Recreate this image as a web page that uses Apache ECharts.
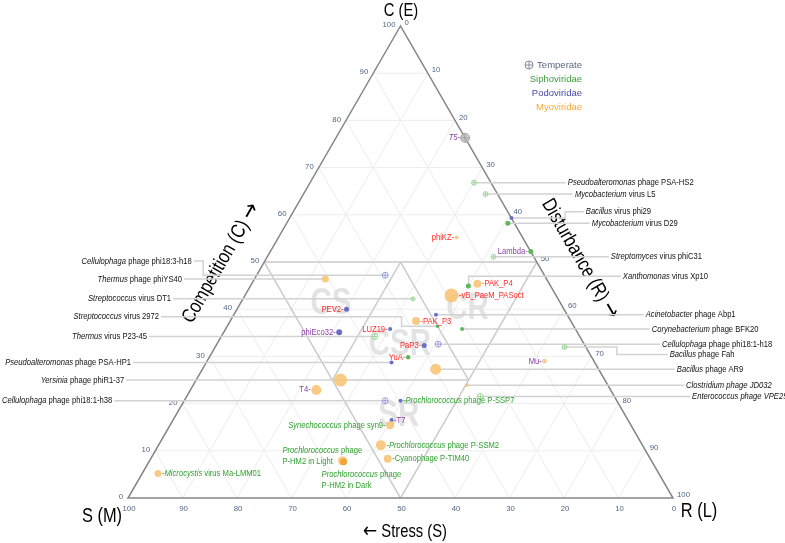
<!DOCTYPE html>
<html>
<head>
<meta charset="utf-8">
<style>html,body{margin:0;padding:0;background:#fff;}#main{width:785px;height:543px;}</style>
<script src="https://cdn.jsdelivr.net/npm/echarts@6.0.0/dist/echarts.min.js"></script>
</head>
<body>
<div id="main"></div>
<script>
// ---------------- DATA ----------------
const phageNames = [
 'T5','Pseudoalteromonas phage PSA-HS2','Mycobacterium virus L5','Bacillus virus phi29','Mycobacterium virus D29',
 'phiKZ','Lambda','Streptomyces virus phiC31','Xanthomonas virus Xp10','PAK_P4',
 'vB_PaeM_PASoct','Streptococcus virus DT1','Acinetobacter phage Abp1','PAK_P3','Streptococcus virus 2972',
 'Corynebacterium phage BFK20','PEV2','phiEco32','LUZ19','Thermus virus P23-45',
 'PaP3','Cellulophaga phage phi18:1-h18','Bacillus phage Fah','YuA','Pseudoalteromonas phage PSA-HP1',
 'Mu','Bacillus phage AR9','Yersinia phage phiR1-37','Clostridium phage JD032','T4',
 'Enterococcus phage VPE25','Cellulophaga phage phi18:1-h38','Prochlorococcus phage P-SSP7','T7','Synechococcus phage syn9',
 'Prochlorococcus phage P-SSM2','Cyanophage P-TIM40','Prochlorococcus phage P-HM2 in Light','Prochlorococcus phage P-HM2 in Dark','Microcystis virus Ma-LMM01',
 'Cellulophaga phage phi18:3-h18','Thermus phage phiYS40'
];
const competitionC = [76.3,66.8,64.4,59.3,58.2, 55.2,52.2,51.1,44.9,45.4, 42.9,42.2,38.8,37.5,36.4, 35.8,40.0,35.1,35.8,34.2,
 32.3,32.6,32.0,29.8,28.7, 29.0,27.3,25.0,23.9,22.9, 21.5,20.6,20.6,16.5,15.4, 11.2,8.3,7.9,7.7,5.2, 47.2,46.4];
const stressS = [0,3.1,2.2,0,1.2, 12.1,0,7.4,15.1,13.2, 19.2,26.6,24.1,28.4,25.0, 20.8,39.9,43.7,34.0,37.6,
 29.5,26.8,3.9,33.7,37.3, 9.1,29.9,48.5,25.9,54.0, 24.6,42.5,39.7,43.4,44.2, 48.0,48.2,56.7,56.6,91.9, 29.2,40.6];
const disturbanceR = [23.7,30.1,33.4,40.7,40.6, 32.7,47.8,41.5,40.0,41.4, 37.9,31.2,37.1,34.1,38.6, 43.4,20.1,21.2,30.2,28.2,
 38.2,40.6,64.1,36.5,34.0, 61.9,42.8,26.5,50.2,23.1, 53.9,36.9,39.7,40.1,40.4, 40.8,43.5,35.4,35.7,2.9, 23.6,13.0];
// family: T = temperate (grey), S = Siphoviridae, P = Podoviridae, M = Myoviridae, Md = Myoviridae (dark condition)
const family = ['T','S','S','P','S', 'M','S','S','S','M', 'M','S','P','M','S', 'S','P','P','P','S',
 'P','P','S','S','P', 'M','M','M','M','M', 'S','P','P','P','M', 'M','M','M','Md','M', 'P','M'];
const temperate = [1,1,1,0,0, 0,0,1,0,0, 0,1,0,0,0, 0,0,0,0,1, 0,1,1,0,0, 1,0,0,1,0, 1,1,0,0,0, 0,0,0,0,0, 1,0];
const bubbleWeight = [9,5,5,4,5, 4,5,5,5,8, 14,4,4,8,3.5, 4,5,6,4,6, 5,6,5,4.5,4, 4,11,13,3,10, 6,6,4,4,8, 10,8,9,7,7, 6,7];

const tickValues = [0,10,20,30,40,50,60,70,80,90,100];
const gridValues = [10,20,30,40,50,60,70,80,90];

const zoneNames = ['CS','CR','CSR','SR'];
const zoneC = [41.1,40.0,32.4,17.4];
const zoneS = [42.2,17.7,33.9,41.6];
const zoneR = [16.7,42.3,33.7,41.0];

// CSR model boundaries: [c1,s1,r1,c2,s2,r2]
const zoneBoundaries = [
 [50,50,0,50,0,50],[50,50,0,0,50,50],[50,0,50,0,50,50],
 [50,25,25,25,50,25],[50,25,25,25,25,50],[25,50,25,25,25,50]
];

// ---------------- LAYOUT (annotations) ----------------
const SANS = '"Liberation Sans",Arial,sans-serif';
const NX = 0.82;            // horizontal condensing of annotation text
const LBL = 9.3;
const labelColors = {red:'#ff2a2a', purple:'#8b3fa8', green:'#2f9f2f'};
// name, rich text, side, colour, dx, dy
const inlineLabels = [
 ['T5','{i|T5}-','L','purple'],
 ['phiKZ','phiKZ-','L','red'],
 ['Lambda','Lambda-','L','purple'],
 ['PAK_P4','-PAK_P4','R','red'],
 ['vB_PaeM_PASoct','-vB_PaeM_PASoct','R','red'],
 ['PAK_P3','-PAK_P3','R','red'],
 ['PEV2','PEV2-','L','red'],
 ['phiEco32','phiEco32-','L','purple'],
 ['LUZ19','LUZ19-','L','red'],
 ['PaP3','PaP3-','L','red'],
 ['YuA','YuA-','L','red'],
 ['Mu','Mu-','L','purple'],
 ['T4','T4-','L','purple'],
 ['T7','-T7','R','purple'],
 ['Prochlorococcus phage P-SSP7','-{i|Prochlorococcus} phage P-SSP7','R','green'],
 ['Synechococcus phage syn9','{i|Synechococcus} phage syn9-','L','green'],
 ['Prochlorococcus phage P-SSM2','-{i|Prochlorococcus} phage P-SSM2','R','green'],
 ['Cyanophage P-TIM40','-Cyanophage P-TIM40','R','green'],
 ['Prochlorococcus phage P-HM2 in Light','{i|Prochlorococcus} phage\nP-HM2 in Light','B','green',-60,-5],
 ['Prochlorococcus phage P-HM2 in Dark','{i|Prochlorococcus} phage\nP-HM2 in Dark','B','green',-22,18],
 ['Microcystis virus Ma-LMM01','-{i|Microcystis} virus Ma-LMM01','R','green']
];
// name, side, text x (cartesian units), label C level (null = same), elbow x (cartesian units)
const leaderLabels = [
 ['Cellulophaga phage phi18:3-h18','L',11.7,50.2,13.8],
 ['Thermus phage phiYS40','L',9.9,null,null],
 ['Streptococcus virus DT1','L',7.9,null,null],
 ['Streptococcus virus 2972','L',5.7,38.4,50.2],
 ['Thermus virus P23-45','L',3.5,null,null],
 ['Pseudoalteromonas phage PSA-HP1','L',0.55,null,null],
 ['Yersinia phage phiR1-37','L',-0.7,null,null],
 ['Cellulophaga phage phi18:1-h38','L',-2.9,null,null],
 ['Pseudoalteromonas phage PSA-HS2','R',80.7,null,null],
 ['Mycobacterium virus L5','R',82.0,null,null],
 ['Bacillus virus phi29','R',84.0,60.65,80.2],
 ['Mycobacterium virus D29','R',85.1,null,null],
 ['Streptomyces virus phiC31','R',88.6,null,null],
 ['Xanthomonas virus Xp10','R',90.8,47.0,62.5],
 ['Acinetobacter phage Abp1','R',95.0,null,null],
 ['Corynebacterium phage BFK20','R',96.1,null,null],
 ['Cellulophaga phage phi18:1-h18','R',98.0,null,null],
 ['Bacillus phage Fah','R',99.4,30.4,89.7],
 ['Bacillus phage AR9','R',100.7,null,null],
 ['Clostridium phage JD032','R',102.4,null,null],
 ['Enterococcus phage VPE25','R',103.5,null,null]
];
const fullItalic = ['Clostridium phage JD032','Enterococcus phage VPE25'];

// ---------------- HELPERS ----------------
const SQ3 = Math.sqrt(3)/2;
function tern(c,s,r){ const t=c+s+r; c=c*100/t; r=r*100/t; return [r + c/2, c*SQ3]; }
const idxOf = n => phageNames.indexOf(n);
function italicRich(color, size){
  return { i:{fontStyle:'italic', fontSize:size, fontFamily:SANS, fill:color} };
}
const arrowRich = (size)=>({ a:{fontSize:size*1.15, fontFamily:'"DejaVu Sans",sans-serif', fill:'#000'} });
const famColor = {T:'#b9b9b9', S:'#5cb85c', P:'#6a6fc4', M:'#f9c57a', Md:'#f2a436'};
const famBorder = {T:'#9a9a9a', S:'#8fcf8f', P:'#8a8fd6', M:'#f3bd80', Md:'#f2a436'};
const TEMP_SYMBOL = 'path://M10,5A5,5,0,1,1,0,5A5,5,0,1,1,10,5ZM5,0L5,10M0,5L10,5';

const chart = echarts.init(document.getElementById('main'), null, {renderer:'canvas'});

const pointData = phageNames.map((n,i)=>{
  const f = family[i];
  const isT = temperate[i]===1;
  return {
    name:n, value: tern(competitionC[i], stressS[i], disturbanceR[i]),
    symbol: isT ? TEMP_SYMBOL : 'circle',
    symbolSize: bubbleWeight[i],
    itemStyle: isT
      ? (f==='T' ? {color:'#bdbdbd', borderColor:'#9c9c9c', borderWidth:1}
                 : {color:'rgba(255,255,255,0.7)', borderColor:famBorder[f], borderWidth:1})
      : {color:famColor[f], opacity: f==='M' ? 0.92 : 1}
  };
});

function seg(a,b,stroke,w){ return {type:'line', shape:{x1:a[0],y1:a[1],x2:b[0],y2:b[1]}, style:{stroke:stroke, lineWidth:w}}; }
function title(x,y,text,size,rot){
  return {type:'text', x:x, y:y, rotation:rot||0, scaleX:NX, style:{text:text, fontSize:size, fontFamily:SANS, fill:'#000', align:'center', verticalAlign:'middle', rich:arrowRich(size)}};
}

const option = {
  animation:false,
  backgroundColor:'#ffffff',
  grid:{left:128, top:26, width:545, height:472},
  xAxis:{type:'value', min:0, max:100, show:false},
  yAxis:{type:'value', min:0, max:100*SQ3, show:false},
  graphic:[
    title(401,11,'C (E)',18),
    title(102,516,'S (M)',20),
    title(699,511,'R (L)',20),
    title(405,532,'{a|\u2190} Stress (S)',18),
    title(221,263,'Competition (C) {a|\u2192}',20,Math.PI/3),
    title(580,259,'Disturbance (R) {a|\u2192}',20,-Math.PI/3),
    {type:'group', children:[
      {type:'circle', shape:{cx:529, cy:65, r:4}, style:{fill:'#fff', stroke:'#8a8fa0', lineWidth:1}},
      {type:'line', shape:{x1:525,y1:65,x2:533,y2:65}, style:{stroke:'#8a8fa0', lineWidth:1}},
      {type:'line', shape:{x1:529,y1:61,x2:529,y2:69}, style:{stroke:'#8a8fa0', lineWidth:1}},
      {type:'text', x:582, y:65, style:{text:'Temperate', fontSize:9.5, fontFamily:SANS, fill:'#5c6680', align:'right', verticalAlign:'middle'}},
      {type:'text', x:582, y:79, style:{text:'Siphoviridae', fontSize:9.5, fontFamily:SANS, fill:'#3d9d3d', align:'right', verticalAlign:'middle'}},
      {type:'text', x:582, y:93, style:{text:'Podoviridae', fontSize:9.5, fontFamily:SANS, fill:'#4848a4', align:'right', verticalAlign:'middle'}},
      {type:'text', x:582, y:107, style:{text:'Myoviridae', fontSize:9.5, fontFamily:SANS, fill:'#f6a93b', align:'right', verticalAlign:'middle'}}
    ]}
  ],
  series:[
    { // fine grid
      type:'custom', coordinateSystem:'cartesian2d', silent:true, z:1,
      data: gridValues.map(v=>[v,0]),
      renderItem(params, api){
        const v = gridValues[params.dataIndex];
        const P = (c,s,r)=>api.coord(tern(c,s,r));
        return {type:'group', children:[
          seg(P(v,100-v,0),P(v,0,100-v),'#ededed',1),
          seg(P(100-v,v,0),P(0,v,100-v),'#ededed',1),
          seg(P(100-v,0,v),P(0,100-v,v),'#ededed',1)
        ]};
      }
    },
    { // zone watermarks
      type:'custom', coordinateSystem:'cartesian2d', silent:true, z:2,
      data: zoneNames.map((n,i)=>tern(zoneC[i],zoneS[i],zoneR[i])),
      renderItem(params, api){
        const p = api.coord([api.value(0), api.value(1)]);
        return {type:'text', x:p[0], y:p[1], scaleX:NX, style:{text:zoneNames[params.dataIndex], fontSize:36, fontWeight:'bold', fontFamily:SANS, fill:'rgba(220,220,220,0.8)', align:'center', verticalAlign:'middle'}};
      }
    },
    { // CSR boundaries
      type:'custom', coordinateSystem:'cartesian2d', silent:true, z:3,
      data: zoneBoundaries.map(b=>tern(b[0],b[1],b[2])),
      renderItem(params, api){
        const b = zoneBoundaries[params.dataIndex];
        return seg(api.coord(tern(b[0],b[1],b[2])), api.coord(tern(b[3],b[4],b[5])), '#cccccc', 1.5);
      }
    },
    { // triangle edges + tick labels
      type:'custom', coordinateSystem:'cartesian2d', silent:true, z:4,
      data: tickValues.map(v=>[v,0]),
      renderItem(params, api){
        const v = tickValues[params.dataIndex];
        const P = (c,s,r)=>api.coord(tern(c,s,r));
        const ts = {fontSize:7.8, fontFamily:SANS, fill:'#506784', verticalAlign:'middle'};
        const a = P(v,100-v,0), b = P(0,v,100-v), c = P(100-v,0,v);
        const ch = [
          {type:'text', x:a[0]-5, y:a[1]-1, style:Object.assign({text:String(v), align:'right'}, ts)},
          {type:'text', x:b[0]+1, y:b[1]+11, style:Object.assign({text:String(v), align:'center'}, ts)},
          {type:'text', x:c[0]+4, y:c[1]-3, style:Object.assign({text:String(v), align:'left'}, ts)}
        ];
        if (params.dataIndex===0){
          const A=P(100,0,0), B=P(0,100,0), C=P(0,0,100);
          ch.push({type:'polygon', shape:{points:[A,B,C]}, style:{fill:'none', stroke:'#858585', lineWidth:1.5}});
        }
        return {type:'group', children:ch};
      }
    },
    { // leader lines + labels
      type:'custom', coordinateSystem:'cartesian2d', silent:true, z:5,
      data: leaderLabels.map((L,k)=>{ const i=idxOf(L[0]); const p=tern(competitionC[i],stressS[i],disturbanceR[i]); return [p[0],p[1],i,k]; }),
      renderItem(params, api){
        const L = leaderLabels[api.value(3)];
        const p = api.coord([api.value(0), api.value(1)]);
        const labelY = L[3]==null ? p[1] : api.coord([0, L[3]*SQ3])[1];
        const tx = api.coord([L[2],0])[0];
        const pts = [p];
        if (L[4]!=null){ const ex = api.coord([L[4],0])[0]; pts.push([ex,p[1]],[ex,labelY]); }
        const endX = L[1]==='L' ? tx+2 : tx-2;
        pts.push([endX,labelY]);
        const words = L[0].split(' ');
        const txt = fullItalic.indexOf(L[0])>=0 ? '{i|'+L[0]+'}' : '{i|'+words[0]+'} '+words.slice(1).join(' ');
        return {type:'group', children:[
          {type:'polyline', shape:{points:pts}, style:{stroke:'#d2d2d2', lineWidth:1.5, fill:'none'}},
          {type:'text', x:tx, y:labelY, scaleX:NX, style:{text:txt, align:L[1]==='L'?'right':'left', verticalAlign:'middle', fontSize:LBL, fontFamily:SANS, fill:'#111', rich:italicRich('#111',LBL)}}
        ]};
      }
    },
    { // points
      type:'scatter', silent:true, z:6, data: pointData
    },
    { // inline labels
      type:'custom', coordinateSystem:'cartesian2d', silent:true, z:7,
      data: inlineLabels.map((L,k)=>{ const i=idxOf(L[0]); const p=tern(competitionC[i],stressS[i],disturbanceR[i]); return [p[0],p[1],i,k]; }),
      renderItem(params, api){
        const L = inlineLabels[api.value(3)];
        const i = api.value(2);
        const p = api.coord([api.value(0), api.value(1)]);
        const r = bubbleWeight[i]/2;
        const col = labelColors[L[3]];
        let x, y = p[1], align;
        if (L[2]==='L'){ x = p[0]-r-0.5; align='right'; }
        else if (L[2]==='R'){ x = p[0]+r+0.5; align='left'; }
        else { x = p[0]+L[4]; y = p[1]+L[5]; align='left'; }
        return {type:'text', x:x, y:y, scaleX:NX, style:{text:L[1], align:align, verticalAlign:'middle', fontSize:LBL, fontFamily:SANS, fill:col, lineHeight:11, rich:italicRich(col,LBL)}};
      }
    }
  ]
};
chart.setOption(option);
</script>
</body>
</html>
